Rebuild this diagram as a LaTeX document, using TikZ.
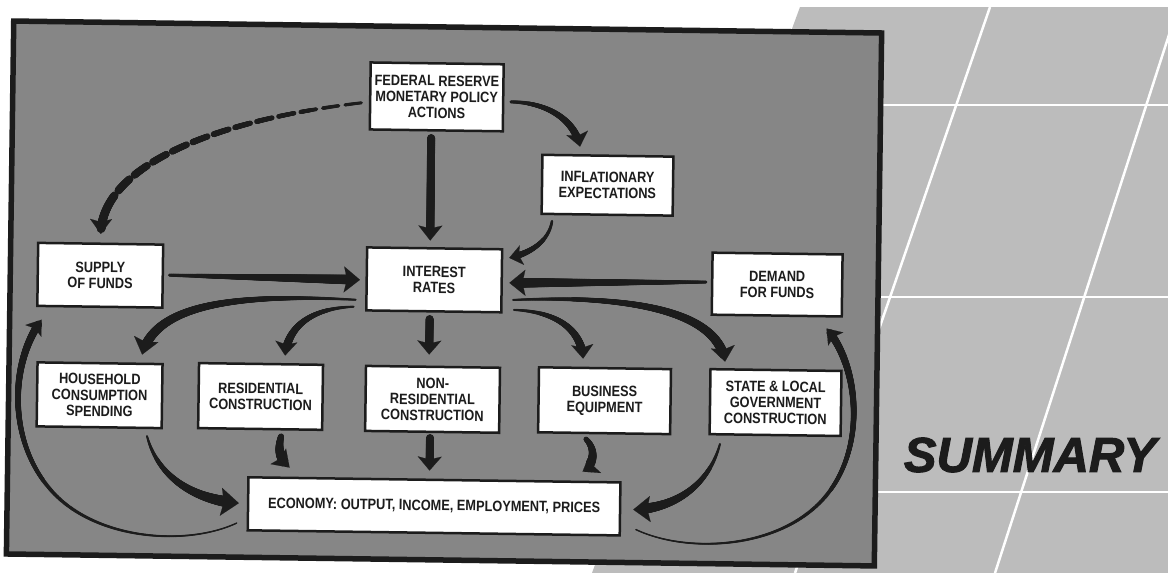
\documentclass[tikz,border=0pt]{standalone}
\usepackage{fontspec}
\usetikzlibrary{arrows.meta,decorations.markings,calc}
\newfontfamily\boxfont[FakeStretch=0.85]{Liberation Sans}
\newfontfamily\sumfont[FakeBold=2]{Liberation Sans}
\definecolor{framefill}{RGB}{134,134,134}
\definecolor{panelgray}{RGB}{188,188,188}
\definecolor{ink}{RGB}{28,28,28}
\tikzset{
  box/.style={draw=ink, line width=2.5pt, fill=white, inner sep=0pt, align=center,
    font=\boxfont\bfseries\fontsize{15}{16}\selectfont, text=ink},
  taper/.style n args={6}{% w0, w1, head width, head length, stop, power
    draw=framefill, line width=0.1pt,
    -{Stealth[length=#4,width=#3,inset=3pt,color=ink]},
    decoration={markings,
      mark=between positions 0 and -#5 step 0.4pt with {%
        \pgfmathsetmacro\tpd{\pgfkeysvalueof{/pgf/decoration/mark info/distance from start}}%
        \pgfmathsetmacro\tprad{0.5*(#1+(#2-#1)*((\tpd/\pgfdecoratedpathlength)^#6))}%
        \fill[ink] (0pt,0pt) circle[radius=\tprad pt];}},
    postaction={decorate}},
  dtaper/.style n args={5}{%
    draw=framefill, line width=0.1pt,
    -{Stealth[length=#4,width=#3,inset=3pt,color=ink]},
    decoration={markings,
      mark=between positions 0 and -#5 step 0.4pt with {%
        \pgfmathsetmacro\tpd{\pgfkeysvalueof{/pgf/decoration/mark info/distance from start}}%
        \pgfmathtruncatemacro\tpon{(mod(\tpd,22)<16)||(\tpd>\pgfdecoratedpathlength-45)}%
        \ifnum\tpon=1
          \pgfmathsetmacro\tprad{0.5*(#1+(#2-#1)*\tpd/\pgfdecoratedpathlength)}%
          \fill[ink] (0pt,0pt) circle[radius=\tprad pt];%
        \fi}},
    postaction={decorate}},
}
\begin{document}
\begin{tikzpicture}[x=1pt,y=-1pt]
\useasboundingbox (0,0) rectangle (1168,573);
\fill[white] (0,0) rectangle (1168,573);
% right panel
\fill[panelgray] (800,7) -- (1168,7) -- (1168,573) -- (592,573) -- cycle;
\begin{scope}
  \clip (800,7) -- (1168,7) -- (1168,573) -- (592,573) -- cycle;
  \draw[white, line width=2.5pt] (590,105) -- (1168,105) (590,297) -- (1168,297) (590,492) -- (1168,492);
  \draw[white, line width=2.5pt] (990,7) -- (795,573) (1178,7) -- (995,573);
\end{scope}
\node[font=\sumfont\bfseries\itshape\fontsize{49}{49}\selectfont, text=ink, inner sep=0pt] (summary) at (1030,455) {SUMMARY};
% diagram
\begin{scope}[rotate around={-0.79:(445,295)}, transform shape]
\draw[ink, line width=5.5pt, fill=framefill] (10,27) rectangle (878,560);
\node[box, minimum width=133pt, minimum height=67pt] (fed) at (434,97) {FEDERAL RESERVE\\MONETARY POLICY\\ACTIONS};
\node[box, minimum width=131pt, minimum height=59pt] (infl) at (606,183) {INFLATIONARY\\EXPECTATIONS};
\node[box, minimum width=125pt, minimum height=63pt] (supply) at (100,280) {SUPPLY\\OF FUNDS};
\node[box, minimum width=135pt, minimum height=63pt] (interest) at (434,280) {INTEREST\\RATES};
\node[box, minimum width=130pt, minimum height=62pt] (demand) at (777,280) {DEMAND\\FOR FUNDS};
\node[box, minimum width=125pt, minimum height=64pt] (house) at (101,400) {HOUSEHOLD\\CONSUMPTION\\SPENDING};
\node[box, minimum width=124pt, minimum height=65pt] (resid) at (262,399) {RESIDENTIAL\\CONSTRUCTION};
\node[box, minimum width=134pt, minimum height=65pt] (nonres) at (434,399.5) {NON-\\RESIDENTIAL\\CONSTRUCTION};
\node[box, minimum width=132pt, minimum height=65pt] (business) at (606,398.5) {BUSINESS\\EQUIPMENT};
\node[box, minimum width=131pt, minimum height=65pt] (state) at (777,398) {STATE \& LOCAL\\GOVERNMENT\\CONSTRUCTION};
\node[box, minimum width=372pt, minimum height=53pt] (econ) at (437,506.5) {ECONOMY: OUTPUT, INCOME, EMPLOYMENT, PRICES};
% straight arrows
\path[taper={8}{8}{24pt}{15pt}{11pt}{1}] ($(fed.south)+(-5,6.5)$) -- ($(interest.north)+(-4.5,-6.5)$);
\path[taper={8}{8}{24pt}{14pt}{10pt}{1}] ($(interest.south)+(-4,6.5)$) -- ($(nonres.north)+(-4,-11)$);
\path[taper={8}{8}{24pt}{14pt}{10pt}{1}] ($(nonres.south)+(-2,5)$) -- ($(econ.north)+(-5,-8)$);
% fed -> inflationary
\path[taper={3}{8}{22pt}{14pt}{10pt}{1}] ($(fed.east)+(6.5,4)$) .. controls (545,101) and (572,118) .. ($(infl.north)+(-28,-7.5)$);
% fed -> supply (dashed)
\path[dtaper={3}{9}{22pt}{15pt}{11pt}] ($(fed.west)+(-7.5,7)$) .. controls (200,125) and (100,175) .. ($(supply.north)+(0,-8.5)$);
% inflationary -> interest
\path[taper={2.5}{7}{20pt}{13pt}{9pt}{1}] ($(infl.south)+(-55,6)$) .. controls (548,240) and (530,252) .. ($(interest.east)+(6,-23)$);
% supply / demand -> interest
\path[taper={3}{10}{26pt}{16pt}{12pt}{1}] ($(supply.east)+(5.5,-1)$) -- ($(interest.west)+(-5.5,1)$);
\path[taper={3}{10}{26pt}{16pt}{12pt}{1}] ($(demand.west)+(-5,-1.5)$) -- ($(interest.east)+(6.5,2)$);
% interest -> sectors
\path[taper={2}{10}{25pt}{16pt}{12pt}{1}] ($(interest.west)+(-9.5,21)$) .. controls (230,296) and (155,310) .. ($(house.north)+(42,-8)$);
\path[taper={2}{9}{22pt}{14pt}{10pt}{1}] ($(interest.west)+(-11.5,28)$) .. controls (310,310) and (288,330) .. ($(resid.north)+(24,-7.5)$);
\path[taper={2}{9}{22pt}{14pt}{10pt}{1}] ($(interest.east)+(11.5,29)$) .. controls (560,310) and (582,330) .. ($(business.north)+(-22,-8)$);
\path[taper={2}{10}{24pt}{15pt}{11pt}{1}] ($(interest.east)+(10.5,19)$) .. controls (640,292) and (718,310) .. ($(state.north)+(-51,-6.5)$);
% sectors -> economy
\path[taper={2}{12}{28pt}{18pt}{14pt}{1}] ($(house.south)+(48,7)$) .. controls (160,480) and (195,503) .. ($(econ.west)+(-8,-0.5)$);
\path[taper={6}{12}{22pt}{16pt}{12pt}{1}] ($(resid.south)+(21,6)$) .. controls (279,455) and (284,462) .. ($(econ.north)+(-145,-9)$);
\path[taper={5}{11}{22pt}{15pt}{11pt}{1}] ($(business.south)+(-18,5)$) .. controls (598,447) and (597,462) .. ($(econ.north)+(148,-9)$);
\path[taper={2}{11}{26pt}{17pt}{13pt}{1}] ($(state.south)+(-55,8.5)$) .. controls (712,480) and (680,505) .. ($(econ.east)+(12,0.5)$);
% feedback loops
\path[taper={1.5}{8}{20pt}{14pt}{10pt}{1.6}] ($(econ.west)+(-10,19.5)$) .. controls (190,550) and (100,545) .. (55,497) .. controls (10,449) and (10,370) .. ($(supply.south)+(-58,12.5)$);
\path[taper={1.5}{8}{20pt}{14pt}{10pt}{1.6}] ($(econ.east)+(15,20.5)$) .. controls (690,550) and (780,545) .. (825,495) .. controls (870,445) and (860,360) .. ($(demand.south)+(50,11)$);
\end{scope}
\end{tikzpicture}
\end{document}
